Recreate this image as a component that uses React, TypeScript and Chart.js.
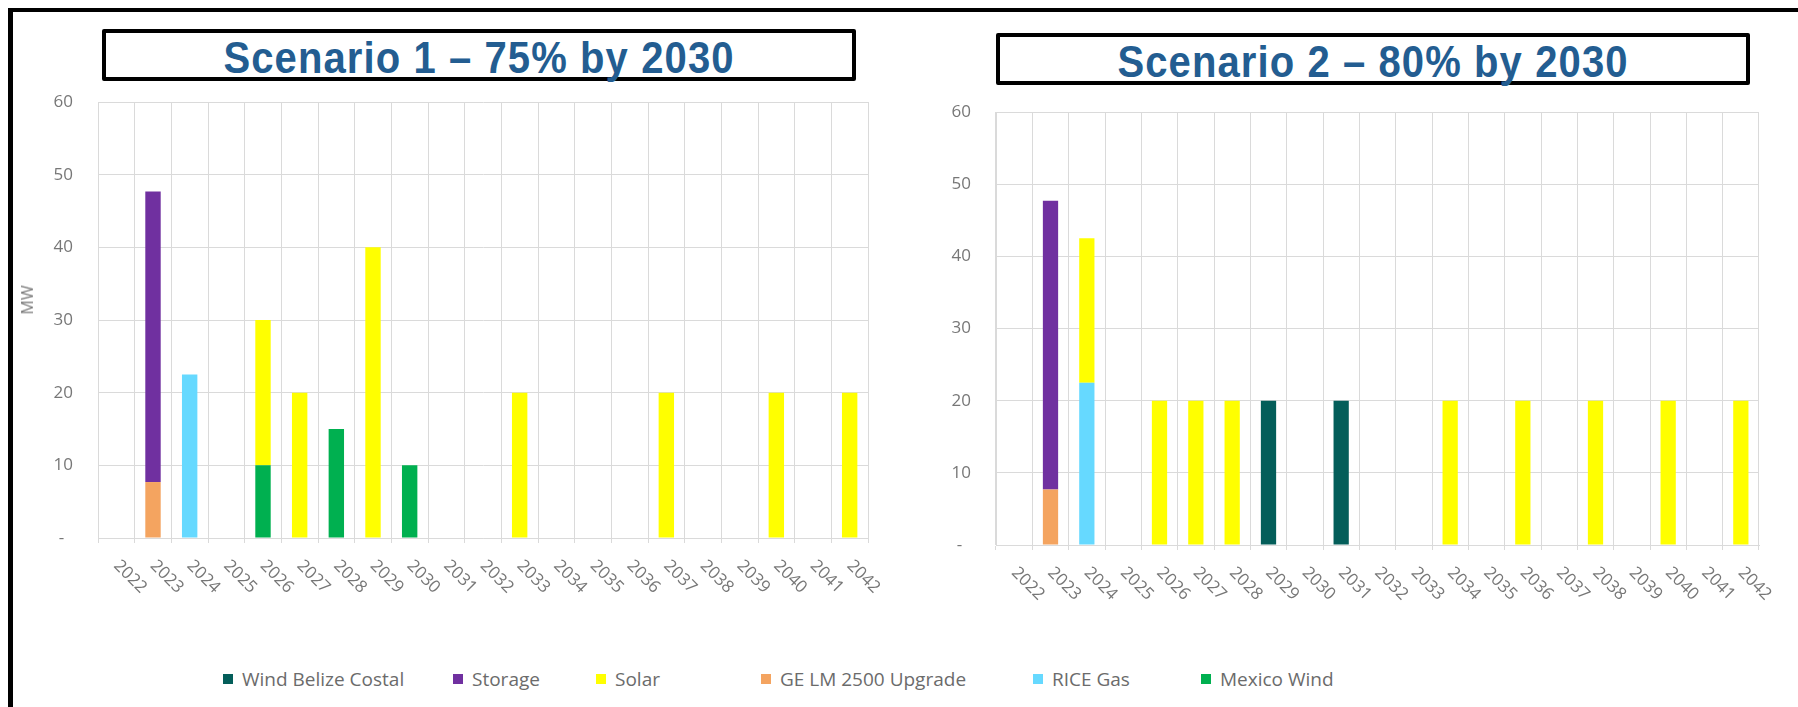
import React, { useEffect, useRef } from 'react';
import { Chart, registerables } from 'chart.js';

Chart.register(...registerables);

// ---------- data ----------
const years = [
  '2022', '2023', '2024', '2025', '2026', '2027', '2028', '2029', '2030', '2031', '2032',
  '2033', '2034', '2035', '2036', '2037', '2038', '2039', '2040', '2041', '2042',
];

const seriesNames = ['Wind Belize Costal', 'Storage', 'Solar', 'GE LM 2500 Upgrade', 'RICE Gas', 'Mexico Wind'];
const seriesColors = ['#045E5A', '#7030A0', '#FFFF00', '#F4A460', '#66D9FF', '#00B050'];
// stacking order bottom -> top (indices into seriesNames)
const stackOrder = [3, 4, 5, 0, 1, 2];

const n = null;
// Scenario 1 – 75% by 2030
const s1WindBelize = [n, n, n, n, n, n, n, n, n, n, n, n, n, n, n, n, n, n, n, n, n];
const s1Storage = [n, 40, n, n, n, n, n, n, n, n, n, n, n, n, n, n, n, n, n, n, n];
const s1Solar = [n, n, n, n, 20, 20, n, 40, n, n, n, 20, n, n, n, 20, n, n, 20, n, 20];
const s1GE = [n, 7.7, n, n, n, n, n, n, n, n, n, n, n, n, n, n, n, n, n, n, n];
const s1Rice = [n, n, 22.5, n, n, n, n, n, n, n, n, n, n, n, n, n, n, n, n, n, n];
const s1Mexico = [n, n, n, n, 10, n, 15, n, 10, n, n, n, n, n, n, n, n, n, n, n, n];

// Scenario 2 – 80% by 2030
const s2WindBelize = [n, n, n, n, n, n, n, 20, n, 20, n, n, n, n, n, n, n, n, n, n, n];
const s2Storage = [n, 40, n, n, n, n, n, n, n, n, n, n, n, n, n, n, n, n, n, n, n];
const s2Solar = [n, n, 20, n, 20, 20, 20, n, n, n, n, n, 20, n, 20, n, 20, n, 20, n, 20];
const s2GE = [n, 7.7, n, n, n, n, n, n, n, n, n, n, n, n, n, n, n, n, n, n, n];
const s2Rice = [n, n, 22.5, n, n, n, n, n, n, n, n, n, n, n, n, n, n, n, n, n, n];
const s2Mexico = [n, n, n, n, n, n, n, n, n, n, n, n, n, n, n, n, n, n, n, n, n];

const yMax = 60;
const yStep = 10;

const scenario1Title = 'Scenario 1 – 75% by 2030';
const scenario2Title = 'Scenario 2 – 80% by 2030';
const yAxisTitle = 'MW';

// ---------- styling ----------
const GRID = '#DADADA';
const TEXT = '#777777';
const FONT = '"Open Sans", "Noto Sans", sans-serif';

const diagLabels = {
  id: 'diagLabels',
  afterDraw(chart: any) {
    const sc = chart.scales.x;
    const ctx = chart.ctx;
    ctx.save();
    ctx.font = '17px "Open Sans"';
    ctx.fillStyle = TEXT;
    ctx.textAlign = 'left';
    ctx.textBaseline = 'middle';
    (chart.data.labels as string[]).forEach((lab, i) => {
      const x = sc.getPixelForTick(i);
      const y = sc.top + 25;
      ctx.save();
      ctx.translate(x, y);
      ctx.rotate(Math.PI / 4);
      ctx.fillText(lab, 0, 0);
      ctx.restore();
    });
    ctx.restore();
  },
};

type ChartProps = {
  series: (number | null)[][];
  left: number;
  top: number;
  width: number;
  height: number;
  yWidth: number;
  padTop: number;
  padRight: number;
  xHeight: number;
};

function ScenarioChart(p: ChartProps) {
  const ref = useRef<HTMLCanvasElement>(null);
  useEffect(() => {
    if (!ref.current) return;
    Chart.defaults.font.family = FONT;
    const chart = new Chart(ref.current, {
      type: 'bar',
      data: {
        labels: years,
        datasets: stackOrder.map((si) => ({
          label: seriesNames[si],
          data: p.series[si],
          backgroundColor: seriesColors[si],
          borderWidth: 0,
          barPercentage: 0.42,
          categoryPercentage: 1,
          stack: 's',
        })),
      },
      options: {
        animation: false,
        responsive: false,
        layout: { padding: { top: p.padTop, right: p.padRight, left: 0, bottom: 0 } },
        plugins: { legend: { display: false }, tooltip: { enabled: false }, title: { display: false } },
        scales: {
          x: {
            stacked: true,
            offset: true,
            grid: { color: GRID, lineWidth: 1, offset: true, drawTicks: true, tickLength: 5 },
            border: { color: GRID, width: 1 },
            ticks: { display: false },
            afterFit: (s: any) => { s.height = p.xHeight; },
          },
          y: {
            stacked: true,
            min: 0,
            max: yMax,
            grid: { color: GRID, lineWidth: 1, drawTicks: true, tickLength: 25, tickColor: 'rgba(0,0,0,0)' },
            border: { color: GRID, width: 1 },
            ticks: {
              stepSize: yStep,
              padding: 0,
              color: TEXT,
              font: { size: 17, family: FONT },
              callback: (v: any) => (Number(v) === 0 ? '-  ' : String(v)),
            },
            afterFit: (s: any) => { s.width = p.yWidth; },
          },
        },
      },
      plugins: [diagLabels],
    });
    return () => chart.destroy();
  }, []);
  return (
    <canvas
      ref={ref}
      width={p.width}
      height={p.height}
      style={{ position: 'absolute', left: p.left, top: p.top, width: p.width, height: p.height }}
    />
  );
}

function TitleBox({ text, left, top }: { text: string; left: number; top: number }) {
  return (
    <div
      style={{
        position: 'absolute',
        left,
        top,
        width: 754,
        height: 52,
        boxSizing: 'border-box',
        border: '4px solid #000',
        borderRadius: 2,
        background: '#fff',
      }}
    >
      <div
        style={{
          position: 'absolute',
          left: 0,
          right: 0,
          top: 3,
          textAlign: 'center',
          fontFamily: '"Liberation Sans", Arial, sans-serif',
          fontWeight: 'bold',
          fontSize: 40,
          lineHeight: '40px',
          letterSpacing: 1.1,
          color: '#235D91',
          whiteSpace: 'nowrap',
          transform: 'scaleY(1.1)',
          transformOrigin: '50% 0',
        }}
      >
        {text}
      </div>
    </div>
  );
}

const legendOrder = [0, 1, 2, 3, 4, 5];
const legendLeft = [223, 453, 596, 761, 1033, 1201];

export default function App() {
  const s1 = [s1WindBelize, s1Storage, s1Solar, s1GE, s1Rice, s1Mexico];
  const s2 = [s2WindBelize, s2Storage, s2Solar, s2GE, s2Rice, s2Mexico];
  return (
    <div
      style={{
        position: 'fixed',
        left: 0,
        top: 0,
        width: 1798,
        height: 707,
        background: '#fff',
        overflow: 'hidden',
      }}
    >
      <div
        style={{
          position: 'absolute',
          left: 8,
          top: 8,
          width: 1900,
          height: 800,
          borderLeft: '5px solid #000',
          borderTop: '4px solid #000',
        }}
      />
      <ScenarioChart series={s1} left={14} top={90} width={876} height={540} yWidth={84} padTop={12} padRight={22} xHeight={92} />
      <ScenarioChart series={s2} left={900} top={90} width={880} height={540} yWidth={96} padTop={22} padRight={21} xHeight={85} />
      <TitleBox text={scenario1Title} left={102} top={29} />
      <TitleBox text={scenario2Title} left={996} top={33} />
      <div
        style={{
          position: 'absolute',
          left: 27,
          top: 300,
          transform: 'translate(-50%, -50%) rotate(-90deg)',
          fontFamily: FONT,
          fontSize: 16,
          color: TEXT,
          whiteSpace: 'nowrap',
        }}
      >
        {yAxisTitle}
      </div>
      {legendOrder.map((si, k) => (
        <div
          key={si}
          style={{
            position: 'absolute',
            left: legendLeft[k],
            top: 668,
            height: 22,
            display: 'flex',
            alignItems: 'center',
            fontFamily: FONT,
            fontSize: 19,
            color: '#6b6b6b',
            whiteSpace: 'nowrap',
          }}
        >
          <span style={{ display: 'inline-block', width: 10, height: 10, background: seriesColors[si], marginRight: 9 }} />
          {seriesNames[si]}
        </div>
      ))}
    </div>
  );
}
